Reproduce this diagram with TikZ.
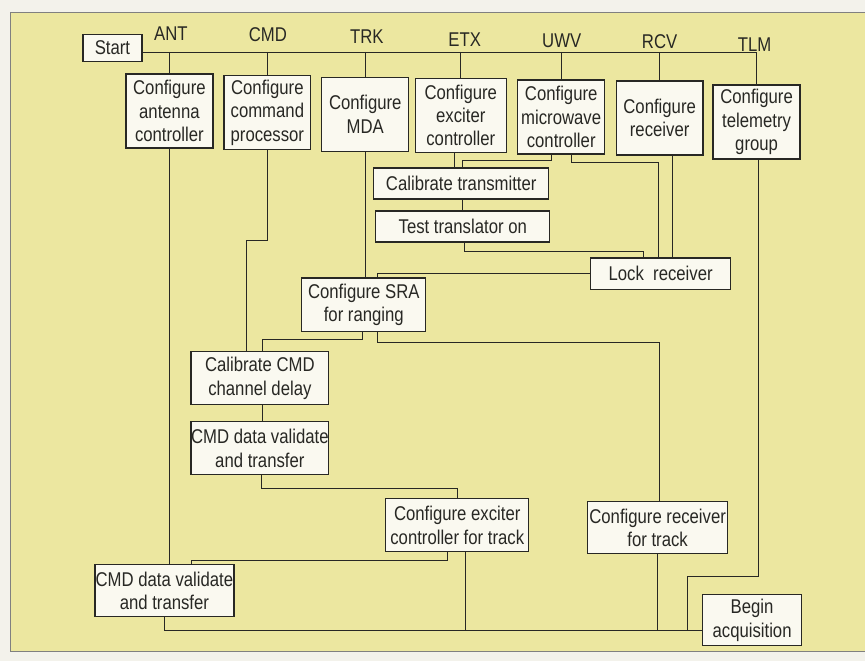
\documentclass[tikz,border=0pt]{standalone}
\usepackage{fontspec}
\setmainfont{Liberation Sans}[FakeStretch=0.84]
\usetikzlibrary{calc}

\definecolor{paper}{RGB}{243,242,235}
\definecolor{pad}{RGB}{236,231,160}
\definecolor{boxfill}{RGB}{250,249,240}
\definecolor{ink}{RGB}{40,40,36}

\begin{document}
\begin{tikzpicture}[x=0.03cm, y=-0.03cm,
    task/.style={draw=ink, fill=boxfill, line width=1.1pt, align=center,
        inner sep=0pt, text=ink, font=\fontsize{17}{20}\selectfont},
    dims/.style 2 args={minimum width=#1*0.03cm, minimum height=#2*0.03cm},
    unit/.style={text=ink, inner sep=0pt, font=\fontsize{17}{20}\selectfont},
    flow/.style={draw=ink, line width=0.7pt}]

    % Page and panel
    \fill[paper] (0,0) rectangle (865,661);
    \fill[pad] (10,12) rectangle (865,652);
    \draw[gray, line width=0.8pt] (865,12) -- (10,12) -- (10,652) -- (865,652);

    % Unit names
    \foreach \name/\x/\y in {ANT/171/34, CMD/268/35, TRK/367/37, ETX/465/40,
                             UWV/562/41, RCV/660/42, TLM/755/45}
        \node[unit] (lbl\name) at (\x,\y) {\name};

    % First row
    \node[task, dims={59}{27}] (start) at (112.5,48) {Start};
    \node[task, dims={87}{74}] (ant) at (169.5,111) {Configure\\antenna\\controller};
    \node[task, dims={87}{74}] (cmd) at (267.5,112.5) {Configure\\command\\processor};
    \node[task, dims={87}{74}] (mda) at (365.5,114.5) {Configure\\MDA};
    \node[task, dims={91}{74}] (etx) at (461,115.5) {Configure\\exciter\\controller};
    \node[task, dims={87}{74}] (uwv) at (561.5,117) {Configure\\microwave\\controller};
    \node[task, dims={87}{74}] (rcv) at (660,118) {Configure\\receiver};
    \node[task, dims={87}{74}] (tlm) at (757,122) {Configure\\telemetry\\group};

    % Later steps
    \node[task, dims={175}{31}] (caltx) at (461.5,183.5) {Calibrate transmitter};
    \node[task, dims={174}{31}] (testtr) at (463,226.5) {Test translator on};
    \node[task, dims={140}{32}] (lockrx) at (661,274) {Lock~ receiver};
    \node[task, dims={124}{54}] (sra) at (364,305) {Configure SRA\\for ranging};
    \node[task, dims={138}{53}] (calcmd) at (260,378.5) {Calibrate CMD\\channel delay};
    \node[task, dims={138}{53}] (cmdval1) at (260,448.5) {CMD data validate\\and transfer};
    \node[task, dims={143}{53}] (etxtrk) at (457.5,525.5) {Configure exciter\\controller for track};
    \node[task, dims={140}{52}] (rcvtrk) at (658,528) {Configure receiver\\for track};
    \node[task, dims={139}{52}] (cmdval2) at (164.5,591) {CMD data validate\\and transfer};
    \node[task, dims={99}{51}] (begacq) at (752.5,620.5) {Begin\\acquisition};

    % Free ends of the connectors
    \coordinate (bus) at ($(start.east)+(0,4)$);
    \coordinate (etxout) at ($(etx.south)+(-6,0)$);
    \coordinate (rcvout) at ($(rcv.south)+(13,0)$);
    \coordinate (trkout) at ($(etxtrk.south)+(8.5,0)$);
    \coordinate (join) at ($(begacq.west)+(0,10)$);
    \coordinate (acqin) at ($(begacq.west)+(-15,10)$);

    % Start to every unit
    \draw[flow] (bus) -| (tlm.north);
    \foreach \unitbox in {ant, cmd, mda, etx, uwv, rcv}
        \draw[flow] (bus -| \unitbox.north) -- (\unitbox.north);

    % Transmitter and receiver chain
    \draw[flow] (etxout) -- (etxout |- caltx.north);
    \draw[flow] ($(uwv.south)+(-9.5,0)$) -- ++(0,6) -| ($(caltx.north)+(1.5,0)$);
    \draw[flow] ($(uwv.south)+(10.5,0)$) -- ++(0,8) -| ($(lockrx.north)+(-2,0)$);
    \draw[flow] (rcvout) -- (rcvout |- lockrx.north);
    \draw[flow] (testtr.north |- caltx.south) -- (testtr.north);
    \draw[flow] ($(testtr.south)+(2,0)$) -- ++(0,9) -| ($(lockrx.north)+(-17,0)$);
    \draw[flow] (lockrx.west) -| ($(sra.north)+(14,0)$);
    \draw[flow] (mda.south) -- (mda.south |- sra.north);

    % Ranging and command chain
    \draw[flow] ($(sra.south)+(14,0)$) -- ++(0,10) -| ($(rcvtrk.north)+(2,0)$);
    \draw[flow] ($(sra.south)+(-1,0)$) -- ++(0,7) -| ($(calcmd.north)+(3,0)$);
    \draw[flow] (cmd.south) -- ++(0,90.5) -| ($(calcmd.north)+(-13,0)$);
    \draw[flow] ($(calcmd.south)+(3,0)$) -- ($(cmdval1.north)+(3,0)$);
    \draw[flow] ($(cmdval1.south)+(2,0)$) -- ++(0,13) -| (etxtrk.north);
    \draw[flow] ($(etxtrk.south)+(-10,0)$) -- ++(0,8) -| ($(cmdval2.north)+(27.5,0)$);
    \draw[flow] (ant.south) -- (ant.south |- cmdval2.north);

    % Into acquisition
    \draw[flow] (cmdval2.south) |- (join);
    \draw[flow] (trkout) -- (trkout |- join);
    \draw[flow] (rcvtrk.south) -- (rcvtrk.south |- join);
    \draw[flow] ($(tlm.south)+(2,0)$) -- ++(0,417) -| (acqin);
\end{tikzpicture}
\end{document}
